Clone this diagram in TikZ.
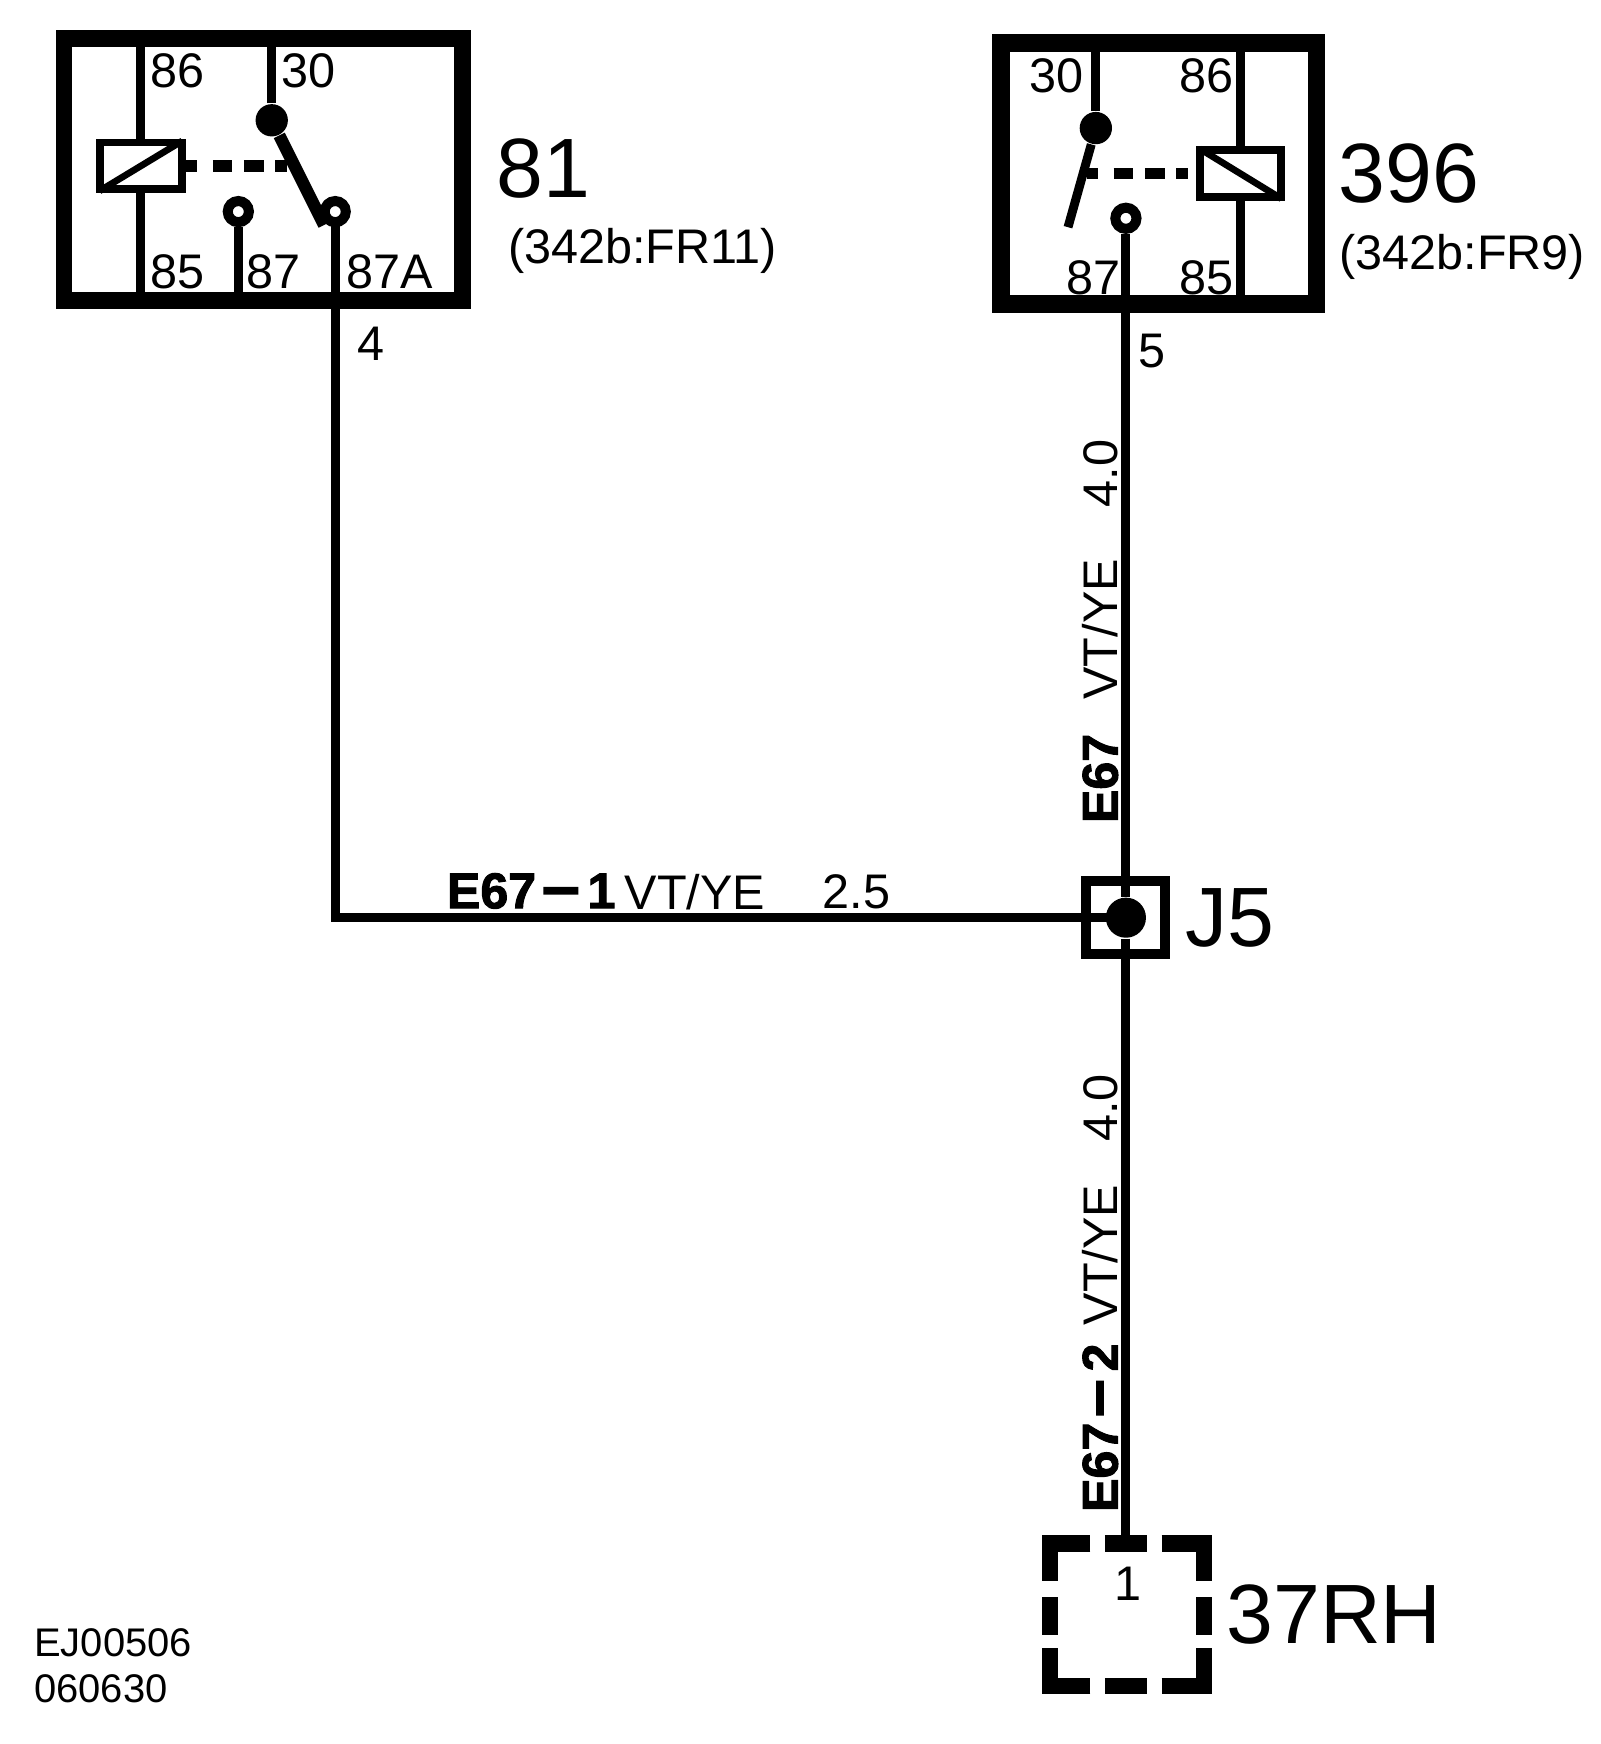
\documentclass[tikz,border=0pt]{standalone}
\usepackage{fontspec}
\setmainfont{Liberation Sans}
\newfontfamily\wirebold[FakeBold=2]{Liberation Sans Bold}
\newcommand{\wiredash}{\kern1.5pt\scalebox{1.35}[1.3]{–}\kern2pt}
\usetikzlibrary{calc,positioning}
\tikzset{
  wire/.style={draw=black, line width=.08cm},
  arm/.style={draw=black, line width=.11cm},
  link/.style={draw=black, line width=.10cm, dash pattern=on .10cm off .14cm on .17cm off .11cm on .18cm off .10cm on .11cm},
  frame/.style={rectangle, draw=black, line width=.15cm, inner sep=0pt},
  coil/.style={rectangle, draw=black, line width=.07cm, inner sep=0pt},
  diag/.style={draw=black, line width=.06cm, shorten >=.04cm, shorten <=.04cm},
  pivot/.style={circle, fill=black, inner sep=0pt, minimum size=.29cm},
  ring/.style={circle, draw=black, fill=white, line width=.09cm, inner sep=0pt, minimum size=.19cm},
  conn/.style={draw=black, line width=.145cm, line join=miter},
  lab/.style={inner sep=0pt, font=\fontsize{12.4}{14}\selectfont},
  big/.style={inner sep=0pt, font=\fontsize{21.5}{24}\selectfont},
  tag/.style={inner sep=0pt, font=\fontsize{12.8}{14}\wirebold},
  small/.style={inner sep=0pt, anchor=west, font=\fontsize{10.2}{12}\selectfont},
}
\begin{document}
\begin{tikzpicture}[x=.01cm, y=-.01cm]
\useasboundingbox (2,1) rectangle (1439,1567);

% relay 81
\node[frame, minimum width=3.58cm, minimum height=2.35cm] (rel81) at (238.5,153) {};
\node[coil, minimum width=.74cm, minimum height=.42cm] (coil81) at (128.5,150) {};
\node[pivot] (piv81) at (246,109) {};
\coordinate (end81) at (293,203);
\coordinate (link81) at (260,150);
\draw[wire] (coil81.north) -- (coil81.north |- rel81.north);
\draw[wire] (coil81.south) -- (coil81.south |- rel81.south);
\draw[wire] (piv81) -- (piv81 |- rel81.north);
\draw[arm] (piv81) -- (end81);
\draw[diag] (coil81.south west) -- (coil81.north east);
\draw[link] (coil81.east) -- (link81);
\node[ring] (c87) at (216,191) {};
\node[ring] (c87a) at (303,191) {};
\draw[wire] (c87) -- (c87 |- rel81.south);
\node[lab] (t86a) at (161,65) {86};
\node[lab] (t30a) at (279,65) {30};
\node[lab] (t85a) at (161,245) {85};
\node[lab] (t87a) at (248,245) {87};
\node[lab] (t87b) at (352,245) {87A};
\node[lab] (t4) at (335,310) {4};
\node[big] (n81) at (490,152) {81};
\node[lab] (r81) at (579,226) {(342b:FR11)};

% relay 396
\node[frame, line width=.16cm, minimum width=2.83cm, minimum height=2.34cm] (rel396) at (1042.5,157) {};
\node[coil, minimum width=.73cm, minimum height=.42cm] (coil396) at (1116,157) {};
\node[pivot] (piv396) at (986,116) {};
\coordinate (end396) at (961,205);
\coordinate (link396) at (978,157);
\draw[wire] (coil396.north) -- (coil396.north |- rel396.north);
\draw[wire] (coil396.south) -- (coil396.south |- rel396.south);
\draw[wire] (piv396) -- (piv396 |- rel396.north);
\draw[wire] (piv396) -- (end396);
\draw[diag] (coil396.north west) -- (coil396.south east);
\draw[link] (link396) -- (coil396.west);
\node[ring] (c87r) at (1013,197) {};
\node[lab] (t30b) at (951,69) {30};
\node[lab] (t86b) at (1085,69) {86};
\node[lab] (t87c) at (984,250) {87};
\node[lab] (t85b) at (1085,250) {85};
\node[lab] (t5) at (1036,316) {5};
\node[big] (n396) at (1267,157) {396};
\node[lab] (r396) at (1315,232) {(342b:FR9)};

% splice and harness
\node[coil, line width=.09cm, minimum width=.71cm, minimum height=.66cm] (j5) at (1013,825) {};
\node[pivot, minimum size=.36cm] (dotj5) at (j5) {};
\node[big] (nj5) at (1106,825) {J5};
\coordinate (c37) at (1013,1387);
\draw[wire, line cap=rect] (c87a) -- (c87a |- j5) -- (dotj5);
\draw[wire] (c87r) -- (dotj5);
\draw[wire] (dotj5) -- (c37);
\node[tag] (w1a) at (479,801) {E67\wiredash 1};
\node[lab] (w1b) at (626,802) {VT/YE};
\node[lab] (w1c) at (771,802) {2.5};
\node[lab, rotate=90] (w2c) at (990,426) {4.0};
\node[lab, rotate=90] (w2b) at (990,566) {VT/YE};
\node[tag, rotate=90] (w2a) at (990,700) {E67};
\node[lab, rotate=90] (w3c) at (990,996) {4.0};
\node[lab, rotate=90] (w3b) at (990,1128) {VT/YE};
\node[tag, rotate=90] (w3a) at (990,1283) {E67\wiredash 2};

% connector 37RH
\draw[conn] (981,1387) -- (945,1387) -- (945,1421);
\draw[conn] (1045,1387) -- (1083,1387) -- (1083,1421);
\draw[conn] (981,1515) -- (945,1515) -- (945,1481);
\draw[conn] (1045,1515) -- (1083,1515) -- (1083,1481);
\foreach \x in {945,1083} \draw[conn] (\x,1435) -- (\x,1469);
\foreach \y in {1387,1515} \draw[conn] (994,\y) -- (1032,\y);
\node[lab] (t1) at (1015,1423) {1};
\node[big] (n37) at (1200,1451) {37RH};

\node[small] (code1) at (32,1476) {EJ00506};
\node[small] (code2) at (32,1517) {060630};
\end{tikzpicture}
\end{document}
